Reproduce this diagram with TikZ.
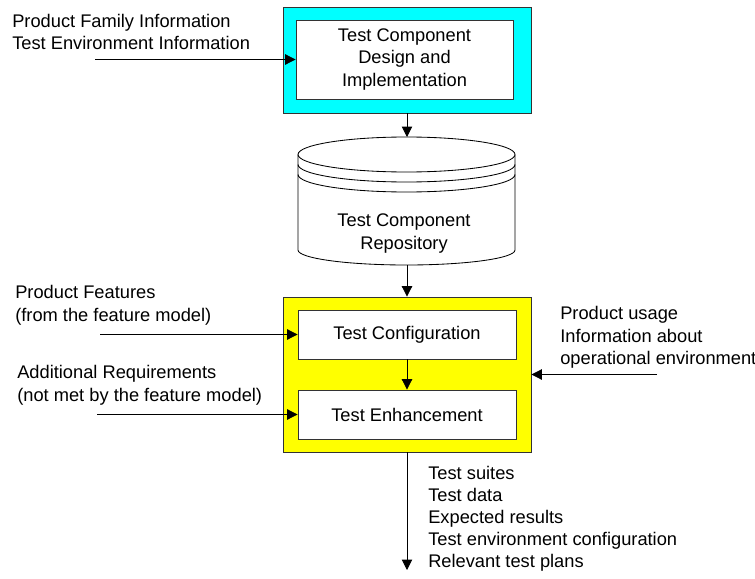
\documentclass[tikz,border=0pt]{standalone}
\usepackage{fontspec}
\setmainfont{Liberation Sans}
\usetikzlibrary{arrows.meta}
\definecolor{aqua}{RGB}{0,255,255}
\definecolor{lemon}{RGB}{255,255,0}

\begin{document}
\begin{tikzpicture}[font=\fontsize{13}{16}\selectfont,
	box/.style={draw=black!80,line width=.6pt,fill=white,align=center,inner sep=0pt},
	stage/.style={draw=black!80,line width=.6pt,minimum width=6.2cm,inner sep=0pt},
	arr/.style={line width=.6pt,-{Triangle[length=.26cm,width=.26cm]}},
	lbl/.style={align=left,inner sep=0pt,anchor=base west}]
	\useasboundingbox (0,0) rectangle (18.875,14.45);

	% design stage
	\node[stage,fill=aqua,minimum height=2.65cm] (design) at (10.175,12.95) {};
	\node[box,minimum width=5.425cm,minimum height=1.975cm] (designin) at (10.1125,12.9625)
		{Test Component\\Design and\\Implementation};

	% repository
	\draw[line width=.6pt,fill=white] (7.45,10.5875)--(7.45,8.2)
		arc[start angle=180,end angle=360,x radius=2.7125,y radius=.375]--(12.875,10.5875);
	\draw[line width=.6pt,fill=white] (10.1625,10.5875) ellipse[x radius=2.7125,y radius=.4375];
	\foreach \dy in {.25,.5}
		\draw[line width=.6pt] (7.45,10.5875-\dy) arc[start angle=180,end angle=360,x radius=2.7125,y radius=.4375];
	\node[align=center,inner sep=0pt] (repo) at (10.1,8.6125) {Test Component\\Repository};
	\coordinate (repotop) at (10.175,11.025);
	\coordinate (repobot) at (10.175,7.825);

	% derivation stage
	\node[stage,fill=lemon,minimum height=3.875cm] (derive) at (10.175,5.0875) {};
	\node[box,minimum width=5.45cm,minimum height=1.225cm] (config) at (10.175,6.0875) {Test Configuration};
	\node[box,minimum width=5.45cm,minimum height=1.225cm] (enhance) at (10.175,4.0875) {Test Enhancement};

	\draw[arr] (design)--(repotop);
	\draw[arr] (repobot)--(derive);
	\draw[arr] (config)--(enhance);

	% inputs and outputs
	\coordinate (famin) at (2.375,12.9625);
	\coordinate (featin) at (2.5,6.0875);
	\coordinate (reqin) at (2.425,4.0875);
	\coordinate (usagein) at (16.425,5.0875);
	\coordinate (outend) at (10.175,.2);

	\draw[arr] (famin)--(designin);
	\draw[arr] (featin)--(config);
	\draw[arr] (reqin)--(enhance);
	\draw[arr] (usagein)--(derive);
	\draw[arr] (derive)--(outend);

	% labels (anchored at the baseline of their last line)
	\node[lbl] (famtxt) at (.3,13.2) {Product Family Information\\Test Environment Information};
	\node[lbl] (feattxt) at (.375,6.425) {Product Features\\(from the feature model)};
	\node[lbl] (reqtxt) at (.425,4.425) {Additional Requirements\\(not met by the feature model)};
	\node[lbl] (usagetxt) at (14,5.3375) {Product usage\\Information about\\operational environment};
	\node[lbl,font=\fontsize{13}{15.5}\selectfont] (outtxt) at (10.7,.275)
		{Test suites\\Test data\\Expected results\\Test environment configuration\\Relevant test plans};
\end{tikzpicture}
\end{document}
